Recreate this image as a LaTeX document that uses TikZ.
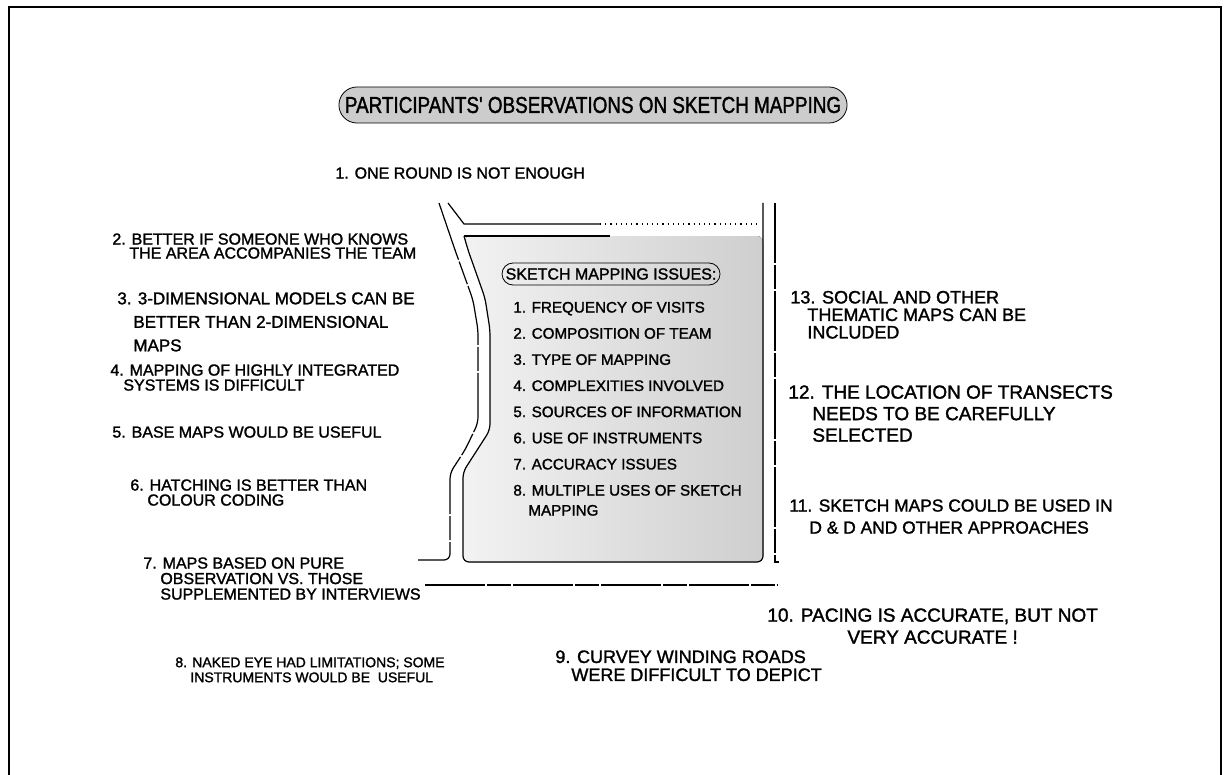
\documentclass[tikz,border=0pt]{standalone}
\usepackage{fontspec}
\setmainfont[FakeBold=1.5]{Liberation Sans}
\newfontfamily\titlefont[FakeStretch=0.82,FakeBold=1.5]{Liberation Sans}
\newcommand{\fs}[2]{\fontsize{#1}{#2}\selectfont}
\tikzset{
	obs/.style={anchor=north west,inner sep=0pt,align=left},
	road/.style={line width=.6pt},
	brokenroad/.style={line width=.6pt,dash pattern=on 30pt off 1pt on 12pt off 1pt},
}
\begin{document}
\begin{tikzpicture}[x=.5pt,y=-.5pt]
	\useasboundingbox (0,0) rectangle (1224,775);
	% frame, open at the bottom
	\draw[line width=1.2pt] (9,775) -- (9,7) -- (1221,7) -- (1221,775);

	\node[draw,fill=black!20,rounded corners=9pt,minimum height=18pt,inner xsep=3pt,
		font=\titlefont\fs{11.5}{12}] (title) at (593,105)
		{PARTICIPANTS' OBSERVATIONS ON SKETCH MAPPING};

	% the sketched block with its roads
	\fill[left color=black!5,right color=black!19,rounded corners=3pt]
		(464,236) -- (468,250) -- (485,298) -- (490,330) -- (490,430)
		-- (472,458) -- (463,472) -- (463,562) -- (763,562) -- (763,236) -- cycle;
	\draw[road,rounded corners=3pt]
		(464,236) -- (468,250) -- (485,298) -- (490,330) -- (490,430)
		-- (472,458) -- (463,472) -- (463,562) -- (763,562) -- (763,203);
	\draw[road] (464,236) -- (610,236);
	\draw[brokenroad,rounded corners=3pt]
		(439,203) -- (455,250) -- (473,300) -- (478,330) -- (478,423)
		-- (465,450) -- (450,473) -- (450,560) -- (418,560);
	\draw[road] (448,203) -- (464,224) -- (600,224);
	\draw[road,dotted] (600,224) -- (761,224);
	\draw[brokenroad] (775,203) -- (775,562) -- (779,562);
	\draw[brokenroad] (425,585) -- (778,585);

	\node[draw,rounded corners=5.5pt,minimum width=109pt,minimum height=11pt,
		inner sep=0pt,font=\fs{8}{9}] (issues) at (611,274) {SKETCH MAPPING ISSUES:};
	\foreach \n/\txt in {1/FREQUENCY OF VISITS,2/COMPOSITION OF TEAM,3/TYPE OF MAPPING,
		4/COMPLEXITIES INVOLVED,5/SOURCES OF INFORMATION,6/USE OF INSTRUMENTS,
		7/ACCURACY ISSUES,8/{MULTIPLE USES OF SKETCH\\\hspace*{7.5pt}MAPPING}}
		\node[obs,font=\fs{7.6}{10}] (issue\n) at (513,{301.5+26.15*(\n-1)}) {\n. \txt};

	% observations, left side
	\node[obs,font=\fs{8}{9}] (obs1) at (335,167) {1. ONE ROUND IS NOT ENOUGH};
	\node[obs,font=\fs{8}{7}] (obs2) at (112,233)
		{2. BETTER IF SOMEONE WHO KNOWS\\\hspace*{8.5pt}THE AREA ACCOMPANIES THE TEAM};
	\node[obs,font=\fs{8.5}{11.75}] (obs3) at (117,292)
		{3. 3-DIMENSIONAL MODELS CAN BE\\\hspace*{8pt}BETTER THAN 2-DIMENSIONAL\\\hspace*{8pt}MAPS};
	\node[obs,font=\fs{8}{7.5}] (obs4) at (110,364)
		{4. MAPPING OF HIGHLY INTEGRATED\\\hspace*{6.5pt}SYSTEMS IS DIFFICULT};
	\node[obs,font=\fs{8}{9}] (obs5) at (112,426) {5. BASE MAPS WOULD BE USEFUL};
	\node[obs,font=\fs{8}{7.5}] (obs6) at (130,479)
		{6. HATCHING IS BETTER THAN\\\hspace*{8.5pt}COLOUR CODING};
	\node[obs,font=\fs{8}{7.75}] (obs7) at (143,557)
		{7. MAPS BASED ON PURE\\\hspace*{8.5pt}OBSERVATION VS. THOSE\\\hspace*{8.5pt}SUPPLEMENTED BY INTERVIEWS};
	\node[obs,font=\fs{7}{7.5}] (obs8) at (175,657)
		{8. NAKED EYE HAD LIMITATIONS; SOME\\\hspace*{7.5pt}INSTRUMENTS WOULD BE \ USEFUL};

	% observations, right side
	\node[obs,font=\fs{9}{9}] (obs9) at (555,650)
		{9. CURVEY WINDING ROADS\\\hspace*{8pt}WERE DIFFICULT TO DEPICT};
	\node[obs,align=center,font=\fs{9.5}{11}] (obs10) at (767,608)
		{10. PACING IS ACCURATE, BUT NOT\\VERY ACCURATE !};
	\node[obs,font=\fs{8.7}{11}] (obs11) at (789,499)
		{11. SKETCH MAPS COULD BE USED IN\\\hspace*{10pt}D \& D AND OTHER APPROACHES};
	\node[obs,font=\fs{9.5}{10.75}] (obs12) at (788,385)
		{12. THE LOCATION OF TRANSECTS\\\hspace*{12pt}NEEDS TO BE CAREFULLY\\\hspace*{12pt}SELECTED};
	\node[obs,font=\fs{9}{8.75}] (obs13) at (790,290.5)
		{13. SOCIAL AND OTHER\\\hspace*{8.5pt}THEMATIC MAPS CAN BE\\\hspace*{8.5pt}INCLUDED};
\end{tikzpicture}
\end{document}
